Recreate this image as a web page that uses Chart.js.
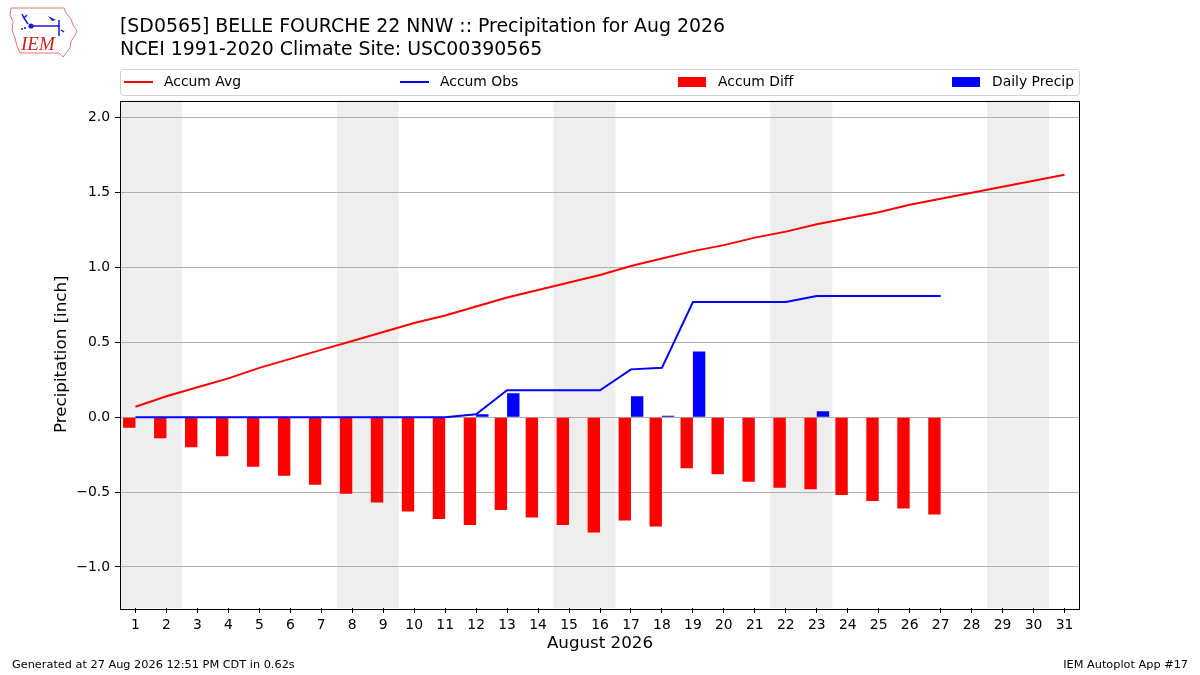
<!DOCTYPE html>
<html><head><meta charset="utf-8">
<script src="https://cdn.jsdelivr.net/npm/chart.js@4.4.0/dist/chart.umd.min.js"></script>
<style>html,body{margin:0;padding:0;background:#fff;}#wrap{width:1200px;height:675px;position:relative;}</style>
</head><body>
<div id="wrap"><canvas id="c" width="1200" height="675"></canvas></div>
<script>
// ---- data ----
const days = [1,2,3,4,5,6,7,8,9,10,11,12,13,14,15,16,17,18,19,20,21,22,23,24,25,26,27,28,29,30,31];
const accumAvg = [0.07,0.14,0.20,0.26,0.33,0.39,0.45,0.51,0.57,0.63,0.68,0.74,0.80,0.85,0.90,0.95,1.01,1.06,1.11,1.15,1.20,1.24,1.29,1.33,1.37,1.42,1.46,1.50,1.54,1.58,1.62];
const obsDays = [1,2,3,4,5,6,7,8,9,10,11,12,13,14,15,16,17,18,19,20,21,22,23,24,25,26,27];
const accumObs = [0,0,0,0,0,0,0,0,0,0,0,0.02,0.18,0.18,0.18,0.18,0.32,0.33,0.77,0.77,0.77,0.77,0.81,0.81,0.81,0.81,0.81];
const accumDiff = [-0.07,-0.14,-0.20,-0.26,-0.33,-0.39,-0.45,-0.51,-0.57,-0.63,-0.68,-0.72,-0.62,-0.67,-0.72,-0.77,-0.69,-0.73,-0.34,-0.38,-0.43,-0.47,-0.48,-0.52,-0.56,-0.61,-0.65];
const dailyPrecip = [0,0,0,0,0,0,0,0,0,0,0,0.02,0.16,0,0,0,0.14,0.01,0.44,0,0,0,0.04,0,0,0,0];
const weekendDays = [[1,2],[8,9],[15,16],[22,23],[29,30]];
const yTicks = [-1.0,-0.5,0.0,0.5,1.0,1.5,2.0];
const titleLines = ["[SD0565] BELLE FOURCHE 22 NNW :: Precipitation for Aug 2026", "NCEI 1991-2020 Climate Site: USC00390565"];
const xLabel = "August 2026";
const yLabel = "Precipitation [inch]";
const footerLeft = "Generated at 27 Aug 2026 12:51 PM CDT in 0.62s";
const footerRight = "IEM Autoplot App #17";

const FONT = "'DejaVu Sans', sans-serif";
const pts = (xs, ys) => xs.map((x, i) => ({x: x, y: ys[i]}));

function drawLogo(ctx) {
  ctx.save();
  ctx.strokeStyle = '#e07878'; ctx.lineWidth = 1;
  ctx.beginPath();
  const p = [[11,8],[64,8],[66,13],[71,19],[73,25],[77,31],[74,37],[71,41],[70,48],[66,53],[63,57],[59,53],[20,53],[17,46],[15,38],[12,30],[13,22],[10,15]];
  ctx.moveTo(p[0][0], p[0][1]);
  for (let i = 1; i < p.length; i++) ctx.lineTo(p[i][0], p[i][1]);
  ctx.closePath(); ctx.stroke();
  ctx.strokeStyle = '#1a1ad0'; ctx.fillStyle = '#1a1ad0'; ctx.lineWidth = 1.5;
  ctx.beginPath(); ctx.moveTo(31, 26); ctx.lineTo(60, 26); ctx.stroke();
  ctx.beginPath(); ctx.arc(31, 26, 2.6, 0, Math.PI*2); ctx.fill();
  ctx.beginPath(); ctx.moveTo(59, 20); ctx.lineTo(59, 36); ctx.stroke();
  ctx.beginPath(); ctx.moveTo(48, 16); ctx.lineTo(56, 20); ctx.lineTo(52, 21); ctx.closePath(); ctx.fill();
  ctx.beginPath(); ctx.moveTo(28, 24); ctx.lineTo(24, 18); ctx.lineTo(22, 14); ctx.moveTo(24, 18); ctx.lineTo(27, 15); ctx.stroke();
  ctx.beginPath(); ctx.arc(25, 28, 1, 0, Math.PI*2); ctx.arc(22, 29, 1, 0, Math.PI*2); ctx.fill();
  ctx.beginPath(); ctx.moveTo(61, 30); ctx.lineTo(64, 32); ctx.stroke();
  ctx.fillStyle = '#d02020';
  ctx.font = "italic 19px 'Liberation Serif', serif";
  ctx.textBaseline = 'alphabetic'; ctx.textAlign = 'left';
  ctx.fillText('IEM', 21, 50);
  ctx.restore();
}

const decor = {
  id: 'decor',
  beforeDraw(chart) {
    const ctx = chart.ctx, a = chart.chartArea, xs = chart.scales.x;
    ctx.save();
    ctx.fillStyle = '#ffffff'; ctx.fillRect(0, 0, chart.width, chart.height);
    ctx.fillStyle = '#eeeeee';
    weekendDays.forEach(w => {
      const x0 = xs.getPixelForValue(w[0] - 0.5), x1 = xs.getPixelForValue(w[1] + 0.5);
      const l = Math.max(x0, a.left), r = Math.min(x1, a.right);
      ctx.fillRect(l, a.top, r - l, a.bottom - a.top);
    });
    ctx.restore();
  },
  afterDraw(chart) {
    const ctx = chart.ctx, a = chart.chartArea;
    ctx.save();
    // frame
    ctx.strokeStyle = '#000'; ctx.lineWidth = 1;
    ctx.strokeRect(Math.round(a.left) + 0.5, Math.round(a.top) + 0.5, Math.round(a.right - a.left) - 1, Math.round(a.bottom - a.top));
    // titles
    ctx.fillStyle = '#000'; ctx.textAlign = 'left'; ctx.textBaseline = 'alphabetic';
    ctx.font = "18.9px " + FONT;
    ctx.fillText(titleLines[0], 120, 32);
    ctx.fillText(titleLines[1], 120, 55);
    // legend
    const lx = a.left, ly = 69, lw = a.right - a.left, lh = 26;
    ctx.strokeStyle = '#d0d0d0'; ctx.lineWidth = 1;
    ctx.beginPath();
    if (ctx.roundRect) ctx.roundRect(lx + 0.5, ly + 0.5, lw - 1, lh, 3); else ctx.rect(lx + 0.5, ly + 0.5, lw - 1, lh);
    ctx.fillStyle = 'rgba(255,255,255,0.8)'; ctx.fill(); ctx.stroke();
    ctx.font = "13.9px " + FONT; ctx.textBaseline = 'middle';
    const cy = ly + 13;
    const colX = [124, 400, 678, 952];
    chart.data.datasets.forEach((ds, i) => {
      const hx = colX[i];
      if (ds.type === 'line') {
        ctx.strokeStyle = ds.borderColor; ctx.lineWidth = 2;
        ctx.beginPath(); ctx.moveTo(hx, cy); ctx.lineTo(hx + 29, cy); ctx.stroke();
      } else {
        ctx.fillStyle = ds.backgroundColor;
        ctx.fillRect(hx, cy - 5, 28, 10);
      }
      ctx.fillStyle = '#000';
      ctx.fillText(ds.label, hx + 40, cy + 0.5);
    });
    // footer
    ctx.font = "11.3px " + FONT; ctx.textBaseline = 'middle';
    ctx.textAlign = 'left'; ctx.fillText(footerLeft, 12, 665);
    ctx.textAlign = 'right'; ctx.fillText(footerRight, 1188, 665);
    drawLogo(ctx);
    ctx.restore();
  }
};

const fmtY = v => (Math.abs(v) < 1e-9 ? '0.0' : v.toFixed(1).replace('-', '\u2212'));

new Chart(document.getElementById('c'), {
  type: 'bar',
  data: {
    datasets: [
      {type: 'line', label: 'Accum Avg', data: pts(days, accumAvg), borderColor: '#ff0000', backgroundColor: '#ff0000', borderWidth: 2, pointRadius: 0, tension: 0, fill: false, order: 0},
      {type: 'line', label: 'Accum Obs', data: pts(obsDays, accumObs), borderColor: '#0000ff', backgroundColor: '#0000ff', borderWidth: 2, pointRadius: 0, tension: 0, fill: false, order: 0},
      {type: 'bar', label: 'Accum Diff', data: pts(obsDays, accumDiff), backgroundColor: '#ff0000', borderWidth: 0, categoryPercentage: 0.8, barPercentage: 1.0, order: 1},
      {type: 'bar', label: 'Daily Precip', data: pts(obsDays, dailyPrecip), backgroundColor: '#0000ff', borderWidth: 0, categoryPercentage: 0.8, barPercentage: 1.0, order: 1}
    ]
  },
  options: {
    responsive: false, animation: false, devicePixelRatio: 1,
    layout: {padding: {left: 0, right: 120, top: 100.5, bottom: 0}},
    plugins: {legend: {display: false}, tooltip: {enabled: false}, title: {display: false}},
    scales: {
      x: {
        type: 'linear', min: 0.5, max: 31.5, offset: false,
        afterBuildTicks: s => { s.ticks = days.map(v => ({value: v})); },
        afterFit: s => { s.height = 675 - 608; },
        grid: {display: true, drawOnChartArea: false, drawTicks: true, tickLength: 5, tickColor: '#000', offset: false},
        border: {display: false},
        ticks: {autoSkip: false, maxRotation: 0, padding: 4, color: '#000', font: {family: FONT, size: 13.9}, callback: v => String(v)},
        title: {display: true, text: xLabel, color: '#000', font: {family: FONT, size: 16.7}, padding: {top: 0, bottom: 21}}
      },
      y: {
        type: 'linear', min: -1.274, max: 2.116,
        afterBuildTicks: s => { s.ticks = yTicks.map(v => ({value: v})); },
        afterFit: s => { s.width = 120; },
        grid: {color: '#b0b0b0', lineWidth: 1, drawTicks: true, tickLength: 5, tickColor: '#000'},
        border: {display: false},
        ticks: {padding: 5, color: '#000', font: {family: FONT, size: 13.9}, callback: v => fmtY(v)},
        title: {display: true, text: yLabel, color: '#000', font: {family: FONT, size: 16.7}, padding: {top: 52, bottom: 0}}
      }
    }
  },
  plugins: [decor]
});
</script>
</body></html>
